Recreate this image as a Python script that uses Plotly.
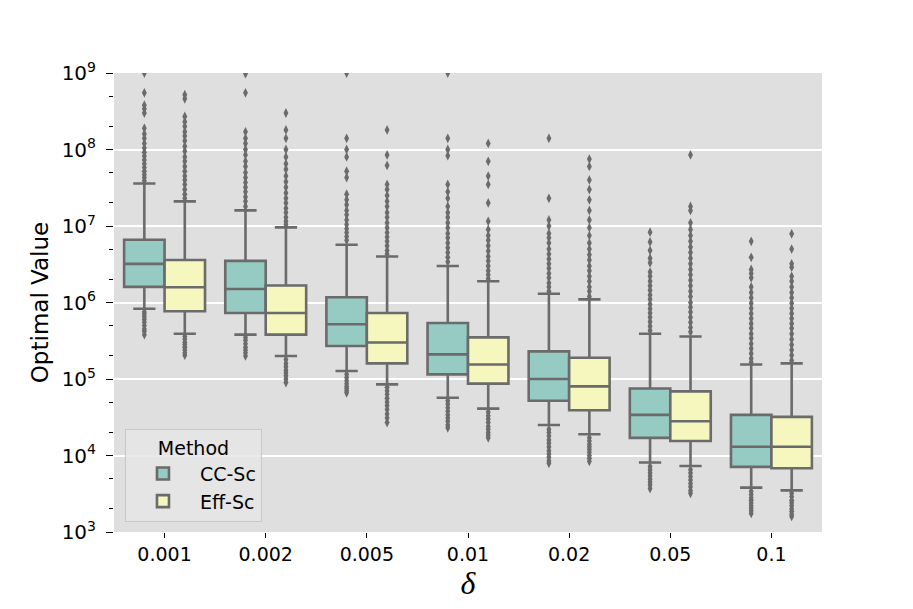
import plotly.graph_objects as go

categories = ["0.001", "0.002", "0.005", "0.01", "0.02", "0.05", "0.1"]
methods = ["CC-Sc", "Eff-Sc"]

# box statistics per method, per category
cc_q1 = [1.6e6, 7.3e5, 2.7e5, 1.15e5, 5.2e4, 1.7e4, 7.1e3]
cc_med = [3.2e6, 1.5e6, 5.2e5, 2.1e5, 1.0e5, 3.4e4, 1.3e4]
cc_q3 = [6.6e6, 3.5e6, 1.17e6, 5.4e5, 2.3e5, 7.5e4, 3.4e4]
cc_lo = [8.3e5, 3.8e5, 1.27e5, 5.7e4, 2.5e4, 8.1e3, 3.8e3]
cc_hi = [3.6e7, 1.6e7, 5.7e6, 3.0e6, 1.3e6, 3.9e5, 1.55e5]

eff_q1 = [7.7e5, 3.8e5, 1.6e5, 8.7e4, 3.9e4, 1.55e4, 6.8e3]
eff_med = [1.58e6, 7.3e5, 3.0e5, 1.55e5, 8.0e4, 2.8e4, 1.3e4]
eff_q3 = [3.6e6, 1.67e6, 7.3e5, 3.5e5, 1.9e5, 6.9e4, 3.2e4]
eff_lo = [3.9e5, 2.0e5, 8.5e4, 4.1e4, 1.9e4, 7.3e3, 3.5e3]
eff_hi = [2.1e7, 9.6e6, 4.0e6, 1.9e6, 1.1e6, 3.6e5, 1.6e5]

# outliers, per category
cc_out = [
    [1e9, 5.5e8, 3.8e8, 3.4e8, 3.0e8, 1.9e8, 1.6e8, 1.4e8, 1.2e8, 1.05e8, 9.2e7, 8.2e7, 7.3e7, 6.5e7,
     5.8e7, 5.2e7, 4.7e7, 4.3e7, 3.9e7, 7.5e5, 7e5, 6.5e5, 6e5, 5.5e5, 5e5, 4.5e5, 4.2e5, 3.8e5],
    [9.8e8, 5.5e8, 1.7e8, 1.4e8, 1.2e8, 1e8, 8.5e7, 7e7, 6e7, 5e7, 4.3e7, 3.7e7, 3.2e7, 2.8e7,
     2.4e7, 2.1e7, 1.8e7, 3.5e5, 3.2e5, 2.9e5, 2.6e5, 2.4e5, 2.2e5, 2e5],
    [1e9, 1.4e8, 1e8, 8e7, 5.2e7, 4.3e7, 2.6e7, 2.2e7, 1.9e7, 1.6e7, 1.4e7, 1.2e7, 1.05e7, 9.2e6,
     8.2e6, 7.3e6, 6.5e6, 1.15e5, 1.05e5, 9.5e4, 8.7e4, 8e4, 7.5e4, 7e4, 6.6e4],
    [1e9, 1.4e8, 1e8, 8.3e7, 3.5e7, 2.8e7, 2.3e7, 1.8e7, 1.5e7, 1.3e7, 1.1e7, 9.5e6, 8e6, 7e6,
     6e6, 5.2e6, 4.5e6, 3.9e6, 3.4e6, 5.2e4, 4.7e4, 4.2e4, 3.8e4, 3.4e4, 3.1e4, 2.8e4, 2.5e4, 2.3e4],
    [1.4e8, 2.3e7, 1.2e7, 1e7, 8e6, 7e6, 6e6, 5e6, 4.3e6, 3.7e6, 3.2e6, 2.8e6, 2.4e6, 2.1e6,
     1.8e6, 1.6e6, 1.4e6, 2.2e4, 2e4, 1.8e4, 1.6e4, 1.45e4, 1.3e4, 1.15e4, 1.05e4, 9.5e3, 8.5e3, 7.9e3],
    [8.3e6, 6.2e6, 4.8e6, 3.8e6, 3.3e6, 2.5e6, 2.2e6, 1.9e6, 1.65e6, 1.45e6, 1.25e6, 1.1e6, 9.5e5,
     8.3e5, 7.3e5, 6.4e5, 5.6e5, 4.9e5, 4.3e5, 7.2e3, 6.5e3, 5.9e3, 5.4e3, 4.9e3, 4.5e3, 4.1e3, 3.7e3],
    [6.3e6, 3.9e6, 2.7e6, 2.4e6, 2.1e6, 1.6e6, 1.35e6, 1.15e6, 9.8e5, 8.4e5, 7.2e5, 6.2e5, 5.3e5,
     4.6e5, 3.9e5, 3.4e5, 2.9e5, 2.5e5, 2.15e5, 1.85e5, 1.65e5, 3.4e3, 3.1e3, 2.8e3, 2.6e3, 2.4e3,
     2.2e3, 2.05e3, 1.9e3, 1.75e3],
]
eff_out = [
    [5.2e8, 4.6e8, 2.7e8, 2.3e8, 2e8, 1.7e8, 1.5e8, 1.3e8, 1.1e8, 9.5e7, 8e7, 7e7, 6e7, 5.2e7, 4.5e7,
     4e7, 3.5e7, 3e7, 2.6e7, 2.3e7, 3.6e5, 3.3e5, 3e5, 2.8e5, 2.6e5, 2.4e5, 2.2e5, 2.05e5],
    [3e8, 1.8e8, 1.4e8, 1e8, 8e7, 6.5e7, 5.5e7, 4.5e7, 3.8e7, 3.2e7, 2.7e7, 2.3e7, 2e7, 1.7e7, 1.5e7,
     1.3e7, 1.15e7, 1.05e7, 1.8e5, 1.6e5, 1.45e5, 1.3e5, 1.2e5, 1.1e5, 1e5, 9e4],
    [1.8e8, 8.5e7, 6.2e7, 3.5e7, 3e7, 2.5e7, 2.1e7, 1.8e7, 1.5e7, 1.3e7, 1.1e7, 9.5e6, 8.2e6, 7.2e6,
     6.3e6, 5.5e6, 4.8e6, 4.3e6, 7.8e4, 7e4, 6.3e4, 5.6e4, 5e4, 4.5e4, 4e4, 3.5e4, 3.1e4, 2.7e4],
    [1.2e8, 7e7, 4.5e7, 3.5e7, 2e7, 1.15e7, 9e6, 7.5e6, 6.5e6, 5.5e6, 4.7e6, 4e6, 3.5e6, 3e6, 2.6e6,
     2.3e6, 2.05e6, 3.7e4, 3.3e4, 3e4, 2.7e4, 2.4e4, 2.2e4, 2e4, 1.85e4, 1.7e4],
    [7.5e7, 6e7, 4e7, 3e7, 2.2e7, 1.6e7, 1.2e7, 9.5e6, 7.5e6, 6e6, 5e6, 4.2e6, 3.6e6, 3e6, 2.6e6,
     2.2e6, 1.9e6, 1.6e6, 1.4e6, 1.2e6, 1.7e4, 1.55e4, 1.4e4, 1.3e4, 1.2e4, 1.1e4, 1e4, 9.2e3, 8.4e3],
    [8.5e7, 1.8e7, 1.6e7, 1.1e7, 9e6, 7.5e6, 6.3e6, 5.3e6, 4.5e6, 3.8e6, 3.2e6, 2.7e6, 2.3e6, 1.95e6,
     1.65e6, 1.4e6, 1.2e6, 1e6, 8.7e5, 7.5e5, 6.4e5, 5.5e5, 4.7e5, 4.1e5, 6.5e3, 5.9e3, 5.3e3,
     4.8e3, 4.3e3, 3.9e3, 3.5e3, 3.2e3],
    [7.9e6, 5e6, 3.2e6, 2.9e6, 2.2e6, 1.9e6, 1.6e6, 1.35e6, 1.15e6, 9.8e5, 8.4e5, 7.2e5, 6.2e5, 5.3e5,
     4.6e5, 3.9e5, 3.3e5, 2.8e5, 2.4e5, 2.05e5, 1.75e5, 3.2e3, 2.9e3, 2.6e3, 2.4e3, 2.2e3, 2e3,
     1.85e3, 1.7e3, 1.6e3],
]

ytick_vals = [1e3, 1e4, 1e5, 1e6, 1e7, 1e8, 1e9]
ytick_text = ["10<sup>3</sup>", "10<sup>4</sup>", "10<sup>5</sup>", "10<sup>6</sup>",
              "10<sup>7</sup>", "10<sup>8</sup>", "10<sup>9</sup>"]

colors = ["#95cbc2", "#f6f6bf"]
line_col = "#6b6b6b"
offsets = [-0.2, 0.2]

fig = go.Figure()
stats = [
    (cc_q1, cc_med, cc_q3, cc_lo, cc_hi, cc_out),
    (eff_q1, eff_med, eff_q3, eff_lo, eff_hi, eff_out),
]
for m, (q1, med, q3, lo, hi, outs) in enumerate(stats):
    xs = [i + offsets[m] for i in range(len(categories))]
    fig.add_trace(go.Box(
        name=methods[m], x=xs, q1=q1, median=med, q3=q3,
        lowerfence=lo, upperfence=hi, width=0.4, whiskerwidth=0.55,
        fillcolor=colors[m], line=dict(color=line_col, width=2.6),
        boxpoints=False, hoverinfo="skip",
    ))
    ox, oy = [], []
    for i, vals in enumerate(outs):
        ox += [xs[i]] * len(vals)
        oy += vals
    fig.add_trace(go.Scatter(
        x=ox, y=oy, mode="markers", showlegend=False, hoverinfo="skip",
        marker=dict(symbol="diamond-tall", size=7, color=line_col, line=dict(width=0)),
        cliponaxis=True,
    ))

fig.update_layout(
    width=913, height=609,
    margin=dict(l=114, r=91, t=73, b=77),
    paper_bgcolor="white", plot_bgcolor="#dfdfdf",
    font=dict(family="DejaVu Sans", size=19, color="black"),
    showlegend=True,
    legend=dict(
        title=dict(text="Method", side="top center", font=dict(size=19)),
        x=0.0155, y=0.022, xanchor="left", yanchor="bottom",
        bgcolor="rgba(230,230,230,0.85)", bordercolor="#c8c8c8", borderwidth=1,
        font=dict(size=19), itemwidth=64, tracegroupgap=6,
    ),
)
fig.update_xaxes(
    range=[-0.5, 6.5], tickvals=list(range(len(categories))), ticktext=categories,
    showgrid=False, zeroline=False, showline=False,
    ticks="outside", ticklen=5, tickwidth=1.2, tickcolor="black",
    tickfont=dict(size=19),
    title=dict(text="<i>δ</i>", font=dict(family="Liberation Serif", size=32), standoff=2),
)
fig.update_yaxes(
    type="log", range=[3, 9], tickvals=ytick_vals, ticktext=ytick_text,
    showgrid=True, gridcolor="white", gridwidth=1.5, zeroline=False, showline=False,
    ticks="outside", ticklen=7, tickwidth=1.3, tickcolor="black",
    ticklabelstandoff=6,
    minor=dict(ticks="outside", ticklen=4, tickwidth=1, tickcolor="black", showgrid=False),
    tickfont=dict(size=20),
    title=dict(text="Optimal Value", font=dict(size=23), standoff=6),
)
fig.write_html("out.html", config={"displayModeBar": False},
               post_script="document.body.style.margin='0px';")
